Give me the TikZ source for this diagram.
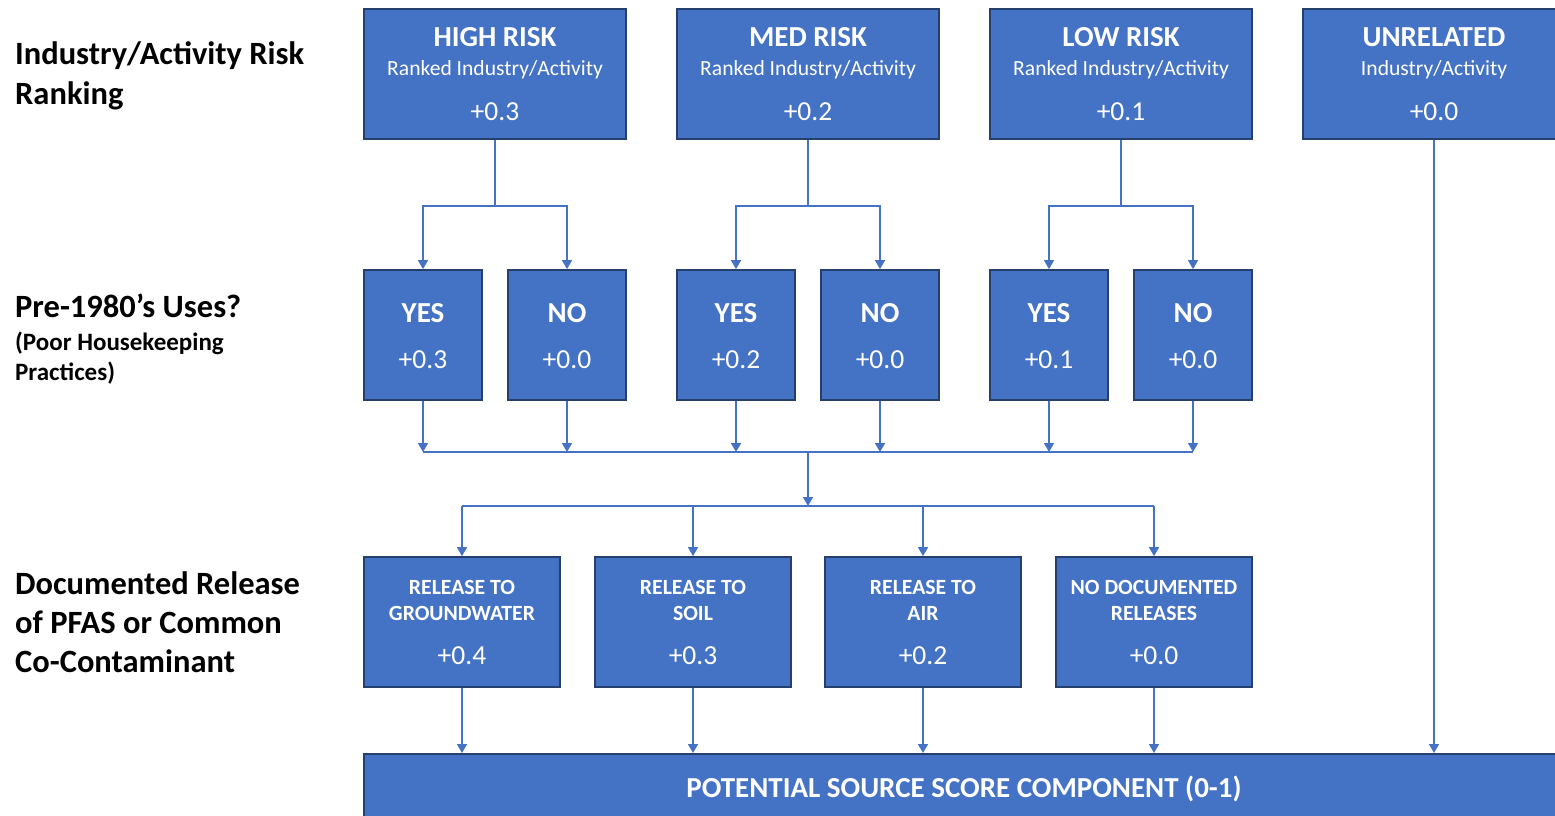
\documentclass[tikz,border=0pt]{standalone}
\usepackage{fontspec}
\setmainfont{Carlito}
\usetikzlibrary{arrows.meta}
\definecolor{boxblue}{HTML}{4472C4}
\definecolor{boxedge}{HTML}{26406E}
\begin{document}
\begin{tikzpicture}[x=1pt,y=-1pt,
  box/.style={draw=boxedge, line width=1.8pt, fill=boxblue, inner sep=0pt, minimum height=130pt},
  topbox/.style={box, minimum width=262pt},
  ynbox/.style={box, minimum width=118pt},
  relbox/.style={box, minimum width=196pt},
  conn/.style={draw=boxblue, line width=1.6pt},
  arr/.style={conn, -{Triangle[width=10pt,length=9pt]}},
  wt/.style={text=white, anchor=base, inner sep=0pt},
  ttl/.style={wt, font=\fontsize{29}{29}\selectfont\bfseries},
  sub/.style={wt, font=\fontsize{21.6}{21.6}\selectfont},
  val/.style={wt, font=\fontsize{27.5}{27.5}\selectfont},
  rel/.style={wt, font=\fontsize{21.7}{21.7}\selectfont\bfseries},
  btm/.style={wt, font=\fontsize{29}{29}\selectfont\bfseries},
  lbl/.style={anchor=base west, inner sep=0pt, font=\fontsize{32.5}{32.5}\selectfont\bfseries},
  lbls/.style={anchor=base west, inner sep=0pt, font=\fontsize{25}{25}\selectfont\bfseries}
]
\useasboundingbox (0,0) rectangle (1555,816);
\begin{scope}
\clip (0,0) rectangle (1555,816);
% top row
\node[topbox] (high) at (495,74) {};
\node[topbox] (med) at (808,74) {};
\node[topbox] (low) at (1121,74) {};
\node[topbox] (unrel) at (1434,74) {};
\foreach \n/\t/\s/\v in {high/HIGH RISK/Ranked Industry\slash Activity/+0.3,
                         med/MED RISK/Ranked Industry\slash Activity/+0.2,
                         low/LOW RISK/Ranked Industry\slash Activity/+0.1,
                         unrel/UNRELATED/Industry\slash Activity/+0.0}{
  \node[ttl] (\n-t) at (\n.center |- 0,47) {\t};
  \node[sub] (\n-s) at (\n.center |- 0,76) {\s};
  \node[val] (\n-v) at (\n.center |- 0,120) {\v};
}
% middle row
\node[ynbox] (hy) at (423,335) {};
\node[ynbox] (hn) at (567,335) {};
\node[ynbox] (my) at (736,335) {};
\node[ynbox] (mn) at (880,335) {};
\node[ynbox] (ly) at (1049,335) {};
\node[ynbox] (ln) at (1193,335) {};
\foreach \n/\t/\v in {hy/YES/+0.3, hn/NO/+0.0, my/YES/+0.2, mn/NO/+0.0, ly/YES/+0.1, ln/NO/+0.0}{
  \node[ttl] (\n-t) at (\n.center |- 0,322) {\t};
  \node[val] (\n-v) at (\n.center |- 0,368) {\v};
}
% release row
\node[relbox] (r1) at (462,622) {};
\node[relbox] (r2) at (693,622) {};
\node[relbox] (r3) at (923,622) {};
\node[relbox] (r4) at (1154,622) {};
\foreach \n/\a/\b/\v in {r1/RELEASE TO/GROUNDWATER/+0.4, r2/RELEASE TO/SOIL/+0.3,
                         r3/RELEASE TO/AIR/+0.2, r4/NO DOCUMENTED/RELEASES/+0.0}{
  \node[rel] (\n-a) at (\n.center |- 0,594) {\a};
  \node[rel] (\n-b) at (\n.center |- 0,620) {\b};
  \node[val] (\n-v) at (\n.center |- 0,664) {\v};
}
% bottom box
\node[box, minimum width=1200pt, minimum height=80pt, anchor=north] (score) at (964,753) {};
\node[btm] (score-t) at (964,797) {POTENTIAL SOURCE SCORE COMPONENT (0-1)};
% connectors top -> middle
\draw[arr] (high.south) -- ++(0,66) -| (hy.north);
\draw[arr] (high.south) -- ++(0,66) -| (hn.north);
\draw[arr] (med.south) -- ++(0,66) -| (my.north);
\draw[arr] (med.south) -- ++(0,66) -| (mn.north);
\draw[arr] (low.south) -- ++(0,66) -| (ly.north);
\draw[arr] (low.south) -- ++(0,66) -| (ln.north);
% middle -> merge
\coordinate (mc) at (808,452);
\coordinate (dc) at (808,506);
\foreach \n in {hy,hn,my,mn,ly,ln}{
  \draw[arr] (\n.south) -- (\n.south |- mc);
}
\draw[conn] (hy.south |- mc) -- (ln.south |- mc);
\draw[arr] (mc) -- (dc);
\draw[conn] (r1.north |- dc) -- (r4.north |- dc);
\foreach \n in {r1,r2,r3,r4}{
  \draw[arr] (\n.north |- dc) -- (\n.north);
  \draw[arr] (\n.south) -- (\n.south |- score.north);
}
\draw[arr] (unrel.south) -- (unrel.south |- score.north);
\end{scope}
% left labels
\node[lbl] (l1a) at (15,65) {Industry/Activity Risk};
\node[lbl] (l1b) at (15,104) {Ranking};
\node[lbl] (l2a) at (15,317) {Pre-1980’s Uses?};
\node[lbls] (l2b) at (15,350) {(Poor Housekeeping};
\node[lbls] (l2c) at (15,380) {Practices)};
\node[lbl] (l3a) at (15,594) {Documented Release};
\node[lbl] (l3b) at (15,633) {of PFAS or Common};
\node[lbl] (l3c) at (15,672) {Co-Contaminant};
\end{tikzpicture}
\end{document}
